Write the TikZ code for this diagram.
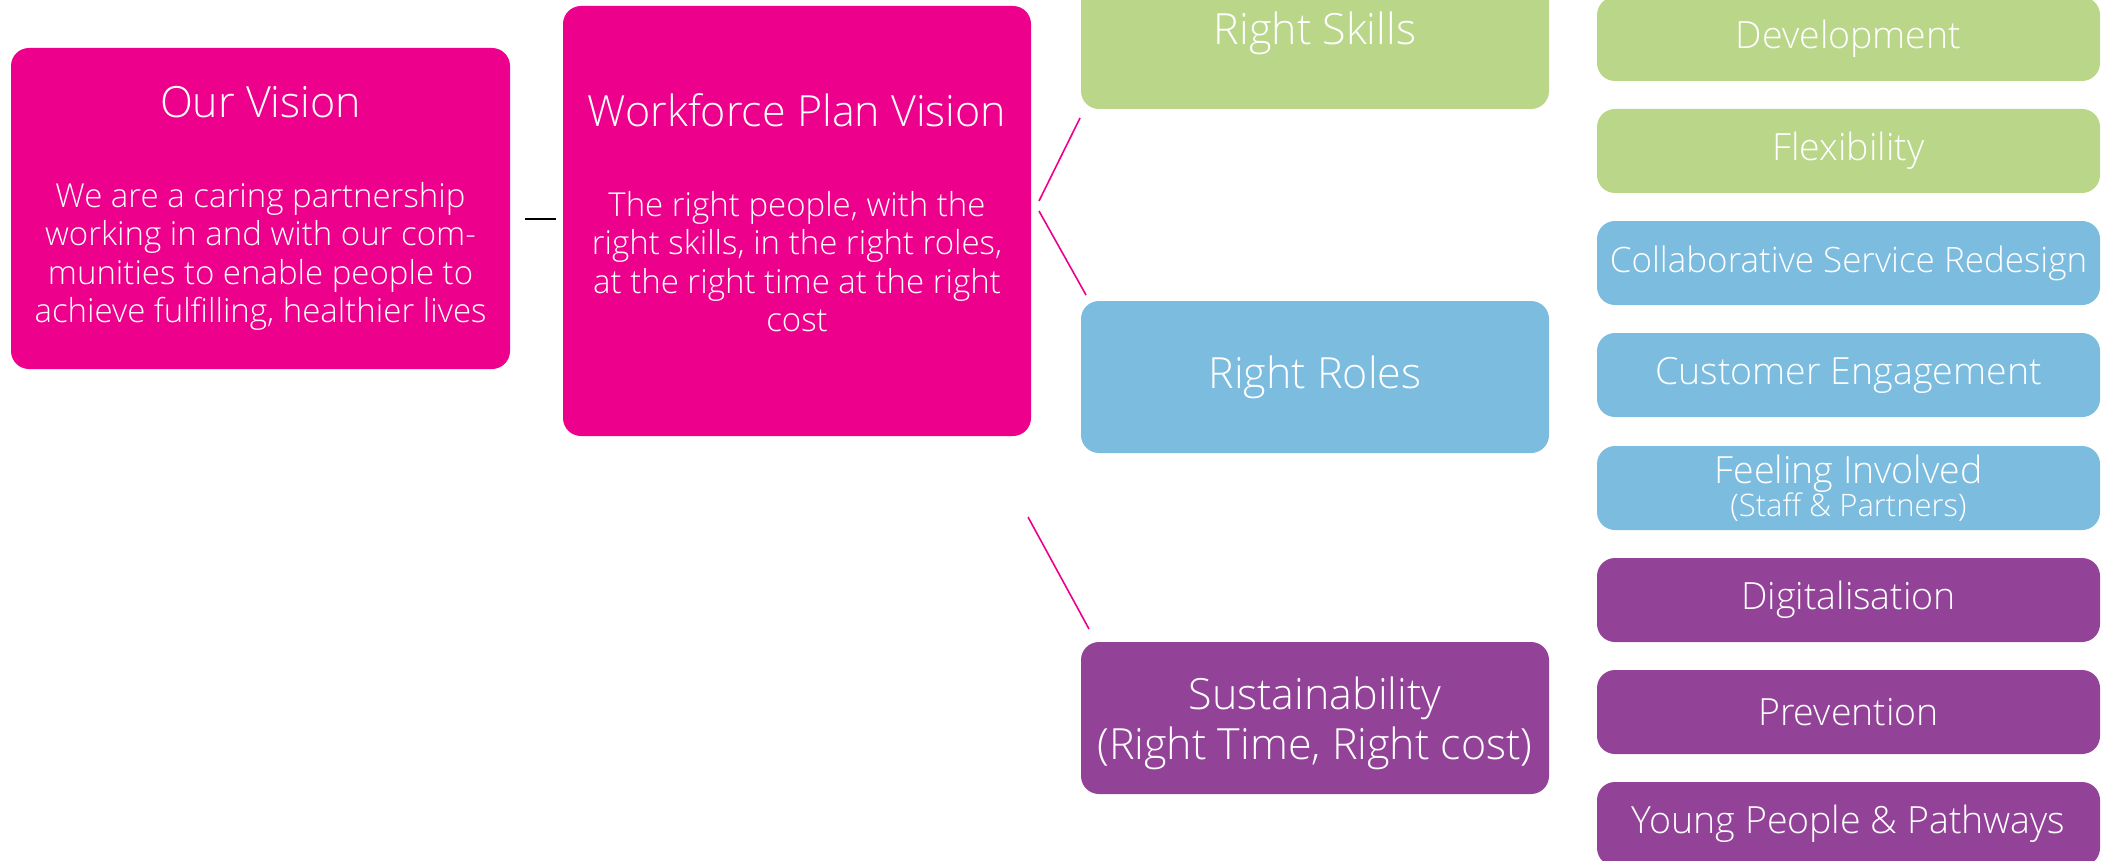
\documentclass[tikz,border=0pt]{standalone}
\usepackage{fontspec}
\setmainfont{Open Sans Light}

\definecolor{visionpink}{HTML}{EC008C}
\definecolor{skillgreen}{HTML}{B9D689}
\definecolor{roleblue}{HTML}{7BBCDF}
\definecolor{sustpurple}{HTML}{924397}

\newcommand{\headfont}{\fontsize{43}{50}\selectfont}
\newcommand{\bodyfont}{\fontsize{33}{38.5}\selectfont}
\newcommand{\itemfont}{\fontsize{37.5}{33}\selectfont}

\begin{document}
\begin{tikzpicture}[x=1pt,y=-1pt,
  box/.style={rounded corners=18pt,inner sep=0pt,text=white,align=center},
  bigbox/.style={box,fill=visionpink,font=\bodyfont},
  midbox/.style={box,minimum width=468pt,minimum height=152pt,font=\headfont},
  itembox/.style={box,minimum width=503pt,minimum height=84pt,font=\itemfont},
  pinkline/.style={visionpink,line width=1.6pt}]

\useasboundingbox (0,0) rectangle (2111,861);
\clip (0,0) rectangle (2111,861);

\pgfmathsetmacro{\midx}{1315}
\pgfmathsetmacro{\itemx}{1848.5}

% the two vision boxes
\node[bigbox,minimum width=499pt,minimum height=321pt] (vision) at (260.5,208.5)
  {{\headfont Our Vision}\\[51pt]
   We are a caring partnership\\
   working in and with our com-\\
   munities to enable people to\\
   achieve fulfilling, healthier lives};
\node[bigbox,minimum width=468pt,minimum height=430pt] (wpv) at (797,221) {};
\node[box,font=\bodyfont] (wpv-text) at ([yshift=8pt]wpv.center)
  {{\headfont Workforce Plan Vision}\\[51pt]
   The right people, with the\\
   right skills, in the right roles,\\
   at the right time at the right\\
   cost};

% middle column
\node[midbox,fill=skillgreen] (skills) at (\midx,33) {Right Skills};
\node[midbox,fill=roleblue] (roles) at (\midx,377) {Right Roles};
\node[midbox,fill=sustpurple] (sust) at (\midx,718) {};
\node[box,font=\headfont] (sust-text) at ([yshift=-5pt]sust.center)
  {Sustainability\\(Right Time, Right cost)};

% right column
\node[itembox,fill=skillgreen] (dev) at (\itemx,39) {Development};
\node[itembox,fill=skillgreen] (flex) at (\itemx,151) {Flexibility};
\node[itembox,fill=roleblue] (csr) at (\itemx,263)
  {\fontsize{35}{33}\selectfont Collaborative Service Redesign};
\node[itembox,fill=roleblue] (cust) at (\itemx,375) {Customer Engagement};
\node[itembox,fill=roleblue] (feel) at (\itemx,488)
  {Feeling Involved\\{\fontsize{31}{33}\selectfont (Staff \& Partners)}};
\node[itembox,fill=sustpurple] (digi) at (\itemx,600) {Digitalisation};
\node[itembox,fill=sustpurple] (prev) at (\itemx,712) {Prevention};
\node[itembox,fill=sustpurple] (young) at (\itemx,824) {Young People \& Pathways};

% connectors
\coordinate (dash-a) at (525,219);
\coordinate (dash-b) at (556,219);
\draw[line width=2.5pt] (dash-a) -- (dash-b);

\coordinate (sk-a) at (1039,201);
\coordinate (sk-b) at (1080,118);
\coordinate (ro-a) at (1039,211);
\coordinate (ro-b) at (1086,295);
\coordinate (su-a) at (1028,517);
\coordinate (su-b) at (1089,629);
\draw[pinkline] (sk-a) -- (sk-b);
\draw[pinkline] (ro-a) -- (ro-b);
\draw[pinkline] (su-a) -- (su-b);

\end{tikzpicture}
\end{document}
